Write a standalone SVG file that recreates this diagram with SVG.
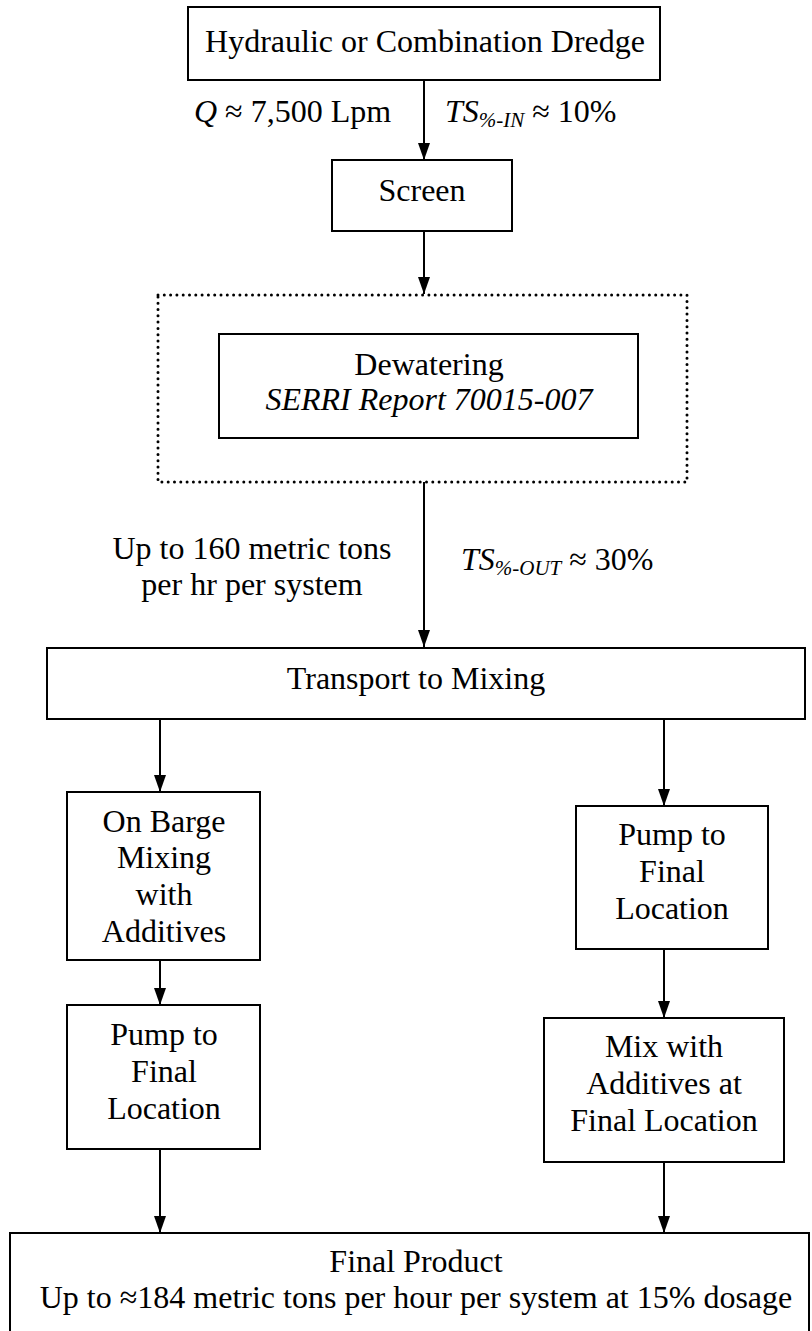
<svg xmlns="http://www.w3.org/2000/svg" width="812" height="1331" viewBox="0 0 812 1331" font-family="'Times New Roman', 'Liberation Serif', Tinos, 'DejaVu Serif', serif">
  <style>
    .box { fill: #ffffff; stroke: #000000; stroke-width: 2; }
    .dotted { fill: none; stroke: #000000; stroke-width: 3; stroke-linecap: round; stroke-dasharray: 0 6.3; }
    .edge { fill: none; stroke: #000000; stroke-width: 2; }
    text { font-family: 'Times New Roman', 'Liberation Serif', Tinos, 'DejaVu Serif', serif; font-size: 32px; fill: #000000; }
    .c { text-anchor: middle; }
    .it { font-style: italic; }
    .sub { font-size: 21px; font-style: italic; }
  </style>
  <defs>
    <marker id="arrow" markerUnits="userSpaceOnUse" markerWidth="17" markerHeight="12" refX="17" refY="6" orient="auto" viewBox="0 0 17 12">
      <path d="M0,0 L17,6 L0,12 Z" fill="#000000"/>
    </marker>
  </defs>

  <rect width="812" height="1331" fill="#ffffff"/>

  <!-- connectors -->
  <g id="connectors">
    <line class="edge" x1="424" y1="80" x2="424" y2="160" marker-end="url(#arrow)"/>
    <line class="edge" x1="424" y1="231" x2="424" y2="294" marker-end="url(#arrow)"/>
    <line class="edge" x1="424" y1="482" x2="424" y2="647" marker-end="url(#arrow)"/>
    <line class="edge" x1="160" y1="719" x2="160" y2="792" marker-end="url(#arrow)"/>
    <line class="edge" x1="664" y1="719" x2="664" y2="806" marker-end="url(#arrow)"/>
    <line class="edge" x1="160" y1="960" x2="160" y2="1005" marker-end="url(#arrow)"/>
    <line class="edge" x1="664" y1="949" x2="664" y2="1018" marker-end="url(#arrow)"/>
    <line class="edge" x1="160" y1="1149" x2="160" y2="1233" marker-end="url(#arrow)"/>
    <line class="edge" x1="664" y1="1162" x2="664" y2="1233" marker-end="url(#arrow)"/>
  </g>

  <!-- flow labels -->
  <g id="labels">
    <text x="194" y="122"><tspan class="it">Q</tspan> ≈ 7,500 Lpm</text>
    <text x="445" y="122"><tspan class="it">TS</tspan><tspan class="sub" dy="5">%-IN</tspan><tspan dy="-5"> ≈ 10%</tspan></text>
    <text class="c" x="252" y="559">Up to 160 metric tons</text>
    <text class="c" x="252" y="595">per hr per system</text>
    <text x="461" y="570"><tspan class="it">TS</tspan><tspan class="sub" dy="5">%-OUT</tspan><tspan dy="-5"> ≈ 30%</tspan></text>
  </g>

  <g id="dredge">
    <rect class="box" x="188" y="7" width="472" height="73"/>
    <text class="c" x="425" y="52">Hydraulic or Combination Dredge</text>
  </g>

  <g id="screen">
    <rect class="box" x="332" y="160" width="180" height="71"/>
    <text class="c" x="422" y="201">Screen</text>
  </g>

  <g id="dewatering-system">
    <rect class="dotted" x="158" y="295" width="529" height="187"/>
    <g id="dewatering">
      <rect class="box" x="219" y="334" width="419" height="104"/>
      <text class="c" x="429" y="375">Dewatering</text>
      <text class="c it" x="429" y="410">SERRI Report 70015-007</text>
    </g>
  </g>

  <g id="transport">
    <rect class="box" x="47" y="648" width="758" height="71"/>
    <text class="c" x="416" y="689">Transport to Mixing</text>
  </g>

  <g id="barge-mixing">
    <rect class="box" x="67" y="792" width="193" height="168"/>
    <text class="c" x="164" y="832">On Barge</text>
    <text class="c" x="164" y="868">Mixing</text>
    <text class="c" x="164" y="905">with</text>
    <text class="c" x="164" y="942">Additives</text>
  </g>

  <g id="pump-left">
    <rect class="box" x="67" y="1005" width="193" height="144"/>
    <text class="c" x="164" y="1045">Pump to</text>
    <text class="c" x="164" y="1082">Final</text>
    <text class="c" x="164" y="1119">Location</text>
  </g>

  <g id="pump-right">
    <rect class="box" x="576" y="806" width="192" height="143"/>
    <text class="c" x="672" y="845">Pump to</text>
    <text class="c" x="672" y="882">Final</text>
    <text class="c" x="672" y="919">Location</text>
  </g>

  <g id="mix-final">
    <rect class="box" x="544" y="1018" width="240" height="144"/>
    <text class="c" x="664" y="1057">Mix with</text>
    <text class="c" x="664" y="1094">Additives at</text>
    <text class="c" x="664" y="1131">Final Location</text>
  </g>

  <g id="final-product">
    <rect class="box" x="10" y="1233" width="799" height="110"/>
    <text class="c" x="416" y="1272">Final Product</text>
    <text class="c" x="416" y="1308">Up to ≈184 metric tons per hour per system at 15% dosage</text>
  </g>
</svg>
